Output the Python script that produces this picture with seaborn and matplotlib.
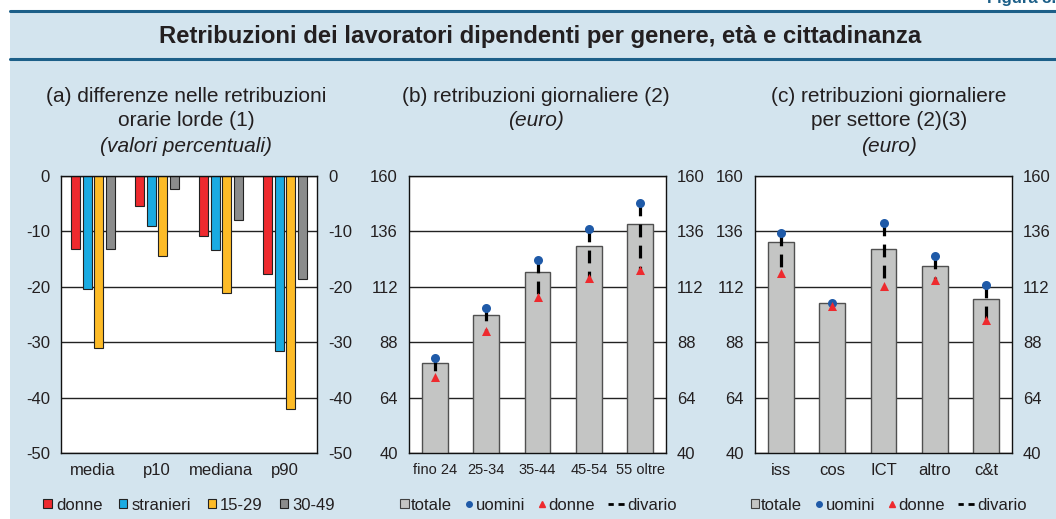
import pandas as pd
import seaborn as sns
import matplotlib.pyplot as plt
from matplotlib.patches import Patch, Rectangle
from matplotlib.lines import Line2D
from matplotlib.legend_handler import HandlerLine2D

# (a) differenze nelle retribuzioni orarie lorde (valori percentuali)
stat_labels = ['media', 'p10', 'mediana', 'p90']
group_labels = ['donne', 'stranieri', '15-29', '30-49']
gap_donne = [-13.2, -5.5, -10.8, -17.7]
gap_stranieri = [-20.4, -9.0, -13.4, -31.6]
gap_15_29 = [-31.1, -14.5, -21.2, -42.0]
gap_30_49 = [-13.2, -2.4, -8.0, -18.6]

# (b) retribuzioni giornaliere per classe di eta' (euro)
age_labels = ['fino 24', '25-34', '35-44', '45-54', '55 oltre']
age_totale = [79.1, 99.6, 118.4, 129.7, 139.0]
age_uomini = [81.3, 102.8, 123.5, 137.0, 148.3]
age_donne = [72.8, 92.9, 107.4, 115.8, 119.3]

# (c) retribuzioni giornaliere per settore (euro)
sector_labels = ['iss', 'cos', 'ICT', 'altro', 'c&t']
sector_totale = [131.2, 104.8, 128.2, 121.0, 106.8]
sector_uomini = [135.4, 104.9, 139.5, 125.3, 112.6]
sector_donne = [118.0, 103.6, 112.3, 114.9, 97.8]

sns.set_style('white')
plt.rcParams['font.family'] = ['Liberation Sans', 'DejaVu Sans']
plt.rcParams['axes.unicode_minus'] = False
plt.rcParams['text.color'] = '#231f20'
plt.rcParams['xtick.color'] = '#231f20'
plt.rcParams['ytick.color'] = '#231f20'

BG = '#d3e4ee'
BAND = '#1c5f88'
RED, BLUE, YELLOW, GREY = '#ee2a2e', '#1aabe2', '#fdbb27', '#8b8c8c'
BAR_GREY = '#c4c5c4'
DOT_BLUE = '#1f5aa8'

W, H = 1056, 519
fig = plt.figure(figsize=(W / 100, H / 100), dpi=100)
fig.patch.set_facecolor('white')

# background and title band
fig.patches.append(Rectangle((10 / W, 0), 1, 1 - 11 / H, transform=fig.transFigure,
                             facecolor=BG, edgecolor='none', zorder=-5))
for yy in (11, 59):
    fig.add_artist(Line2D([10 / W, 1], [1 - yy / H] * 2, color=BAND, lw=2.2))
fig.text(1, 1 - 6 / H, 'Figura 3.', ha='right', va='bottom', fontsize=12,
         fontweight='bold', color=BAND)
fig.text(540 / W, 1 - 37 / H,
         'Retribuzioni dei lavoratori dipendenti per genere, età e cittadinanza',
         ha='center', va='center', fontsize=17.2, fontweight='bold')


class WideLine(HandlerLine2D):
    # dashed "divario" key is longer than the other keys
    def legend_artist(self, legend, orig_handle, fontsize, handlebox):
        handlebox.width *= 2.0
        return super().legend_artist(legend, orig_handle, fontsize, handlebox)


def make_ax(x0, x1):
    ax = fig.add_axes([x0 / W, 1 - 453 / H, (x1 - x0) / W, 277 / H])
    ax.set_facecolor('white')
    for s in ax.spines.values():
        s.set_color('#111111')
        s.set_linewidth(1)
    ax.tick_params(axis='y', labelright=True, left=False, right=False, length=0,
                   pad=8, labelsize=12)
    ax.tick_params(axis='x', length=0, pad=7, labelsize=12)
    ax.yaxis.grid(True, color='#222222', lw=1)
    ax.set_axisbelow(True)
    return ax


def titles(xc, lines):
    for i, (txt, italic) in enumerate(lines):
        fig.text(xc / W, 1 - (96 + 25 * i) / H, txt, ha='center', va='center',
                 fontsize=15, style='italic' if italic else 'normal')


# ---- panel (a)
df_a = pd.DataFrame({
    'stat': stat_labels * 4,
    'gruppo': sum([[g] * 4 for g in group_labels], []),
    'val': gap_donne + gap_stranieri + gap_15_29 + gap_30_49,
})
ax_a = make_ax(61, 317)
sns.barplot(data=df_a, x='stat', y='val', hue='gruppo', order=stat_labels,
            hue_order=group_labels, palette=[RED, BLUE, YELLOW, GREY],
            width=0.73, gap=0.23, edgecolor='#222222', linewidth=0.8,
            saturation=1, legend=False, ax=ax_a)
ax_a.set_ylim(-50, 0)
ax_a.set_yticks(range(-50, 1, 10))
ax_a.set_xlabel('')
ax_a.set_ylabel('')
handles_a = [Patch(facecolor=c, edgecolor='#222222', lw=0.8, label=l)
             for c, l in zip([RED, BLUE, YELLOW, GREY], group_labels)]
ax_a.legend(handles=handles_a, loc='center', bbox_to_anchor=(0.5, -0.188), ncol=4,
            frameon=False, fontsize=12, handlelength=0.5, handleheight=0.5,
            handletextpad=0.25, columnspacing=1.0, borderaxespad=0)
titles(186, [('(a) differenze nelle retribuzioni', False),
             ('orarie lorde (1)', False), ('(valori percentuali)', True)])


def wage_panel(x0, x1, cats, tot, men, women, xlabsize, leg_x):
    ax = make_ax(x0, x1)
    sns.barplot(x=cats, y=tot, color=BAR_GREY, saturation=1, width=0.5,
                edgecolor='#505050', linewidth=1, ax=ax)
    pos = range(len(cats))
    ax.vlines(pos, men, women, colors='black', lw=2.3, linestyles=(0, (4, 2.6)),
              zorder=3)
    sns.stripplot(x=cats, y=men, jitter=False, color=DOT_BLUE, marker='o', size=6.5,
                  linewidth=0, zorder=4, ax=ax)
    sns.stripplot(x=cats, y=women, jitter=False, color=RED, marker='^', size=6.5,
                  linewidth=0, zorder=4, ax=ax)
    ax.set_xlim(-0.5, len(cats) - 0.5)
    ax.set_ylim(40, 160)
    ax.set_yticks(range(40, 161, 24))
    ax.tick_params(axis='x', labelsize=xlabsize)
    divario = Line2D([], [], color='black', lw=2, ls=(0.3, (2.2, 1.7)), label='divario')
    handles = [
        Patch(facecolor=BAR_GREY, edgecolor='#404040', lw=0.8, label='totale'),
        Line2D([], [], ls='none', marker='o', ms=4, color=DOT_BLUE, label='uomini'),
        Line2D([], [], ls='none', marker='^', ms=4.5, color=RED, label='donne'),
        divario,
    ]
    ax.legend(handles=handles, loc='center', bbox_to_anchor=(leg_x, -0.188), ncol=4,
              frameon=False, fontsize=12, handlelength=0.5, handleheight=0.5,
              handletextpad=0.12, columnspacing=0.8, borderaxespad=0,
              handler_map={divario: WideLine()})
    return ax


ax_b = wage_panel(409, 666, age_labels, age_totale, age_uomini, age_donne, 10.5, 0.504)
titles(536, [('(b) retribuzioni giornaliere (2)', False), ('(euro)', True)])

ax_c = wage_panel(755, 1012, sector_labels, sector_totale, sector_uomini, sector_donne,
                  12, 0.52)
titles(889, [('(c) retribuzioni giornaliere', False), ('per settore (2)(3)', False),
             ('(euro)', True)])

fig.savefig('out.png', dpi=100, facecolor=fig.get_facecolor())
